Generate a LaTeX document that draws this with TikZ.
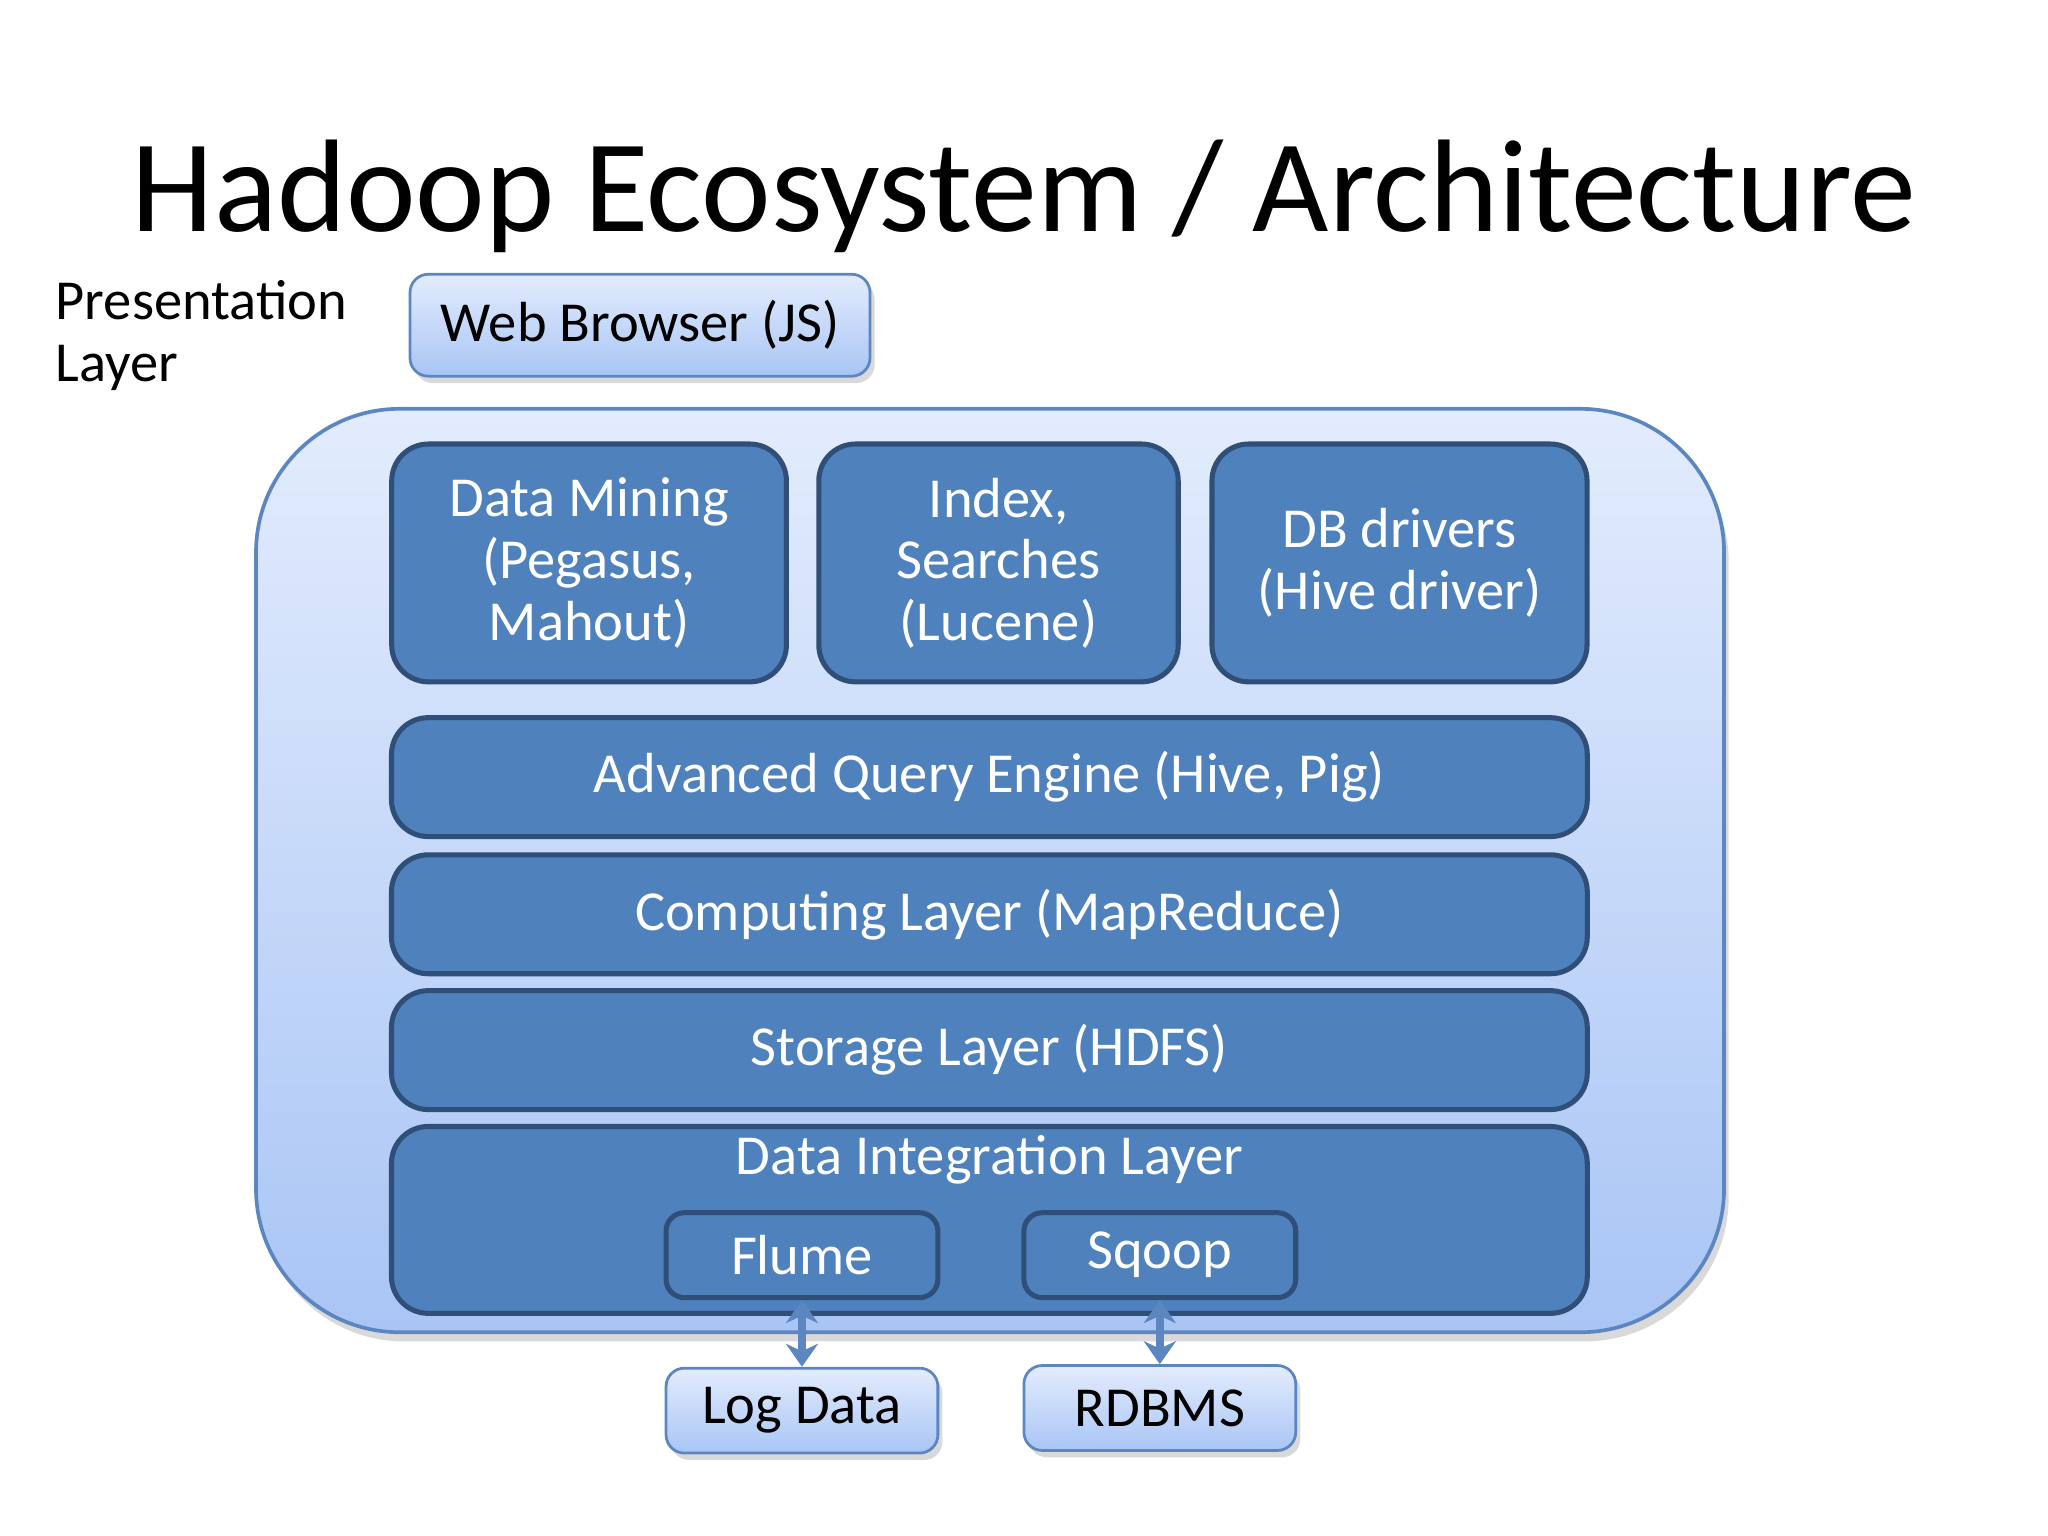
\documentclass[tikz,border=0pt]{standalone}
\usepackage{fontspec}
\setmainfont{Carlito}
\usetikzlibrary{shadows,arrows.meta}
\definecolor{dk}{HTML}{4F81BD}
\definecolor{dkb}{HTML}{2F4F78}
\definecolor{lt1}{HTML}{E3ECFD}
\definecolor{lt2}{HTML}{A9C5F5}
\definecolor{ltb}{HTML}{5B86C0}
\tikzset{
 txt/.style={font=\fontsize{12.3}{13.4}\selectfont},
 dbox/.style={draw=dkb,line width=1.1pt,fill=dk,rounded corners=8pt,text=white,txt,align=center,inner sep=0pt},
 lbox/.style={draw=ltb,line width=0.6pt,top color=lt1,bottom color=lt2,rounded corners=4pt,txt,align=center,inner sep=0pt,drop shadow={opacity=0.3,shadow xshift=1pt,shadow yshift=-1.5pt}},
 arr/.style={{Stealth[length=5pt,width=7pt]}-{Stealth[length=5pt,width=7pt]},draw=ltb,line width=1.6pt}
}
\begin{document}
\begin{tikzpicture}[x=0.01cm,y=-0.01cm]
\useasboundingbox (0,0) rectangle (1568,1176);
\node[font=\fontsize{28.7}{30}\selectfont] (title) at (784,150) {Hadoop Ecosystem / Architecture};
\node[txt,align=left,anchor=north west,inner sep=0pt] (pl) at (42,214) {Presentation\\Layer};
\path[draw=ltb,line width=0.8pt,top color=lt1,bottom color=lt2,rounded corners=1.1cm,drop shadow={opacity=0.3,shadow xshift=1pt,shadow yshift=-2pt}] (196,313) rectangle (1320,1020);
\node[lbox,minimum width=3.52cm,minimum height=0.78cm] (web) at (490,249) {Web Browser (JS)};
\node[dbox,minimum width=3.02cm,minimum height=1.82cm] (dm) at (451,431) {Data Mining\\(Pegasus,\\Mahout)};
\node[dbox,minimum width=2.75cm,minimum height=1.82cm] (ix) at (764.5,431) {Index,\\Searches\\(Lucene)};
\node[dbox,minimum width=2.87cm,minimum height=1.82cm] (db) at (1071.5,431) {DB drivers\\(Hive driver)};
\node[dbox,minimum width=9.15cm,minimum height=0.91cm] (aq) at (757.5,595) {Advanced Query Engine (Hive, Pig)};
\node[dbox,minimum width=9.15cm,minimum height=0.91cm] (cl) at (757.5,700) {Computing Layer (MapReduce)};
\node[dbox,minimum width=9.15cm,minimum height=0.91cm] (sl) at (757.5,804) {Storage Layer (HDFS)};
\node[dbox,minimum width=9.15cm,minimum height=1.43cm] (di) at (757.5,934) {};
\node[txt,text=white] (dil) at (757.5,888) {Data Integration Layer};
\node[dbox,rounded corners=4pt,minimum width=2.08cm,minimum height=0.65cm] (fl) at (614,961) {Flume};
\node[dbox,rounded corners=4pt,minimum width=2.08cm,minimum height=0.65cm] (sq) at (888,961) {Sqoop};
\node[lbox,minimum width=2.08cm,minimum height=0.65cm] (log) at (614,1080) {Log Data};
\node[lbox,minimum width=2.08cm,minimum height=0.65cm] (rd) at (888,1078) {RDBMS};
\draw[arr] (fl.south) -- (log.north);
\draw[arr] (sq.south) -- (rd.north);
\end{tikzpicture}
\end{document}
